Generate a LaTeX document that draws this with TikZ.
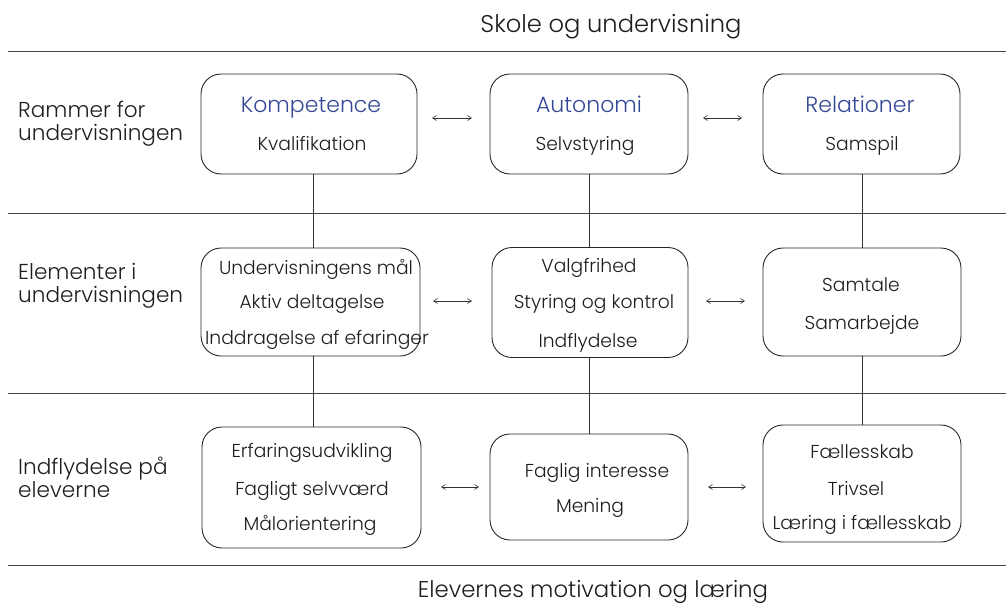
\documentclass[tikz,border=0pt]{standalone}
\usepackage{fontspec}
\setmainfont{Poppins Light}
\usetikzlibrary{arrows.meta}
\definecolor{titleblue}{RGB}{52,72,150}
\definecolor{linegray}{RGB}{70,70,70}
\definecolor{ink}{RGB}{30,30,30}
\begin{document}
\begin{tikzpicture}[x=1pt,y=-1pt,
  box/.style={draw=black!85,line width=0.9pt,rounded corners=20pt,inner sep=0pt},
  sep/.style={draw=linegray,line width=0.9pt},
  conn/.style={draw=black!80,line width=0.7pt},
  dbl/.style={draw=black!80,line width=0.6pt,{Straight Barb[length=4pt,width=5pt]}-{Straight Barb[length=4pt,width=5pt]}},
  txt/.style={font=\fontsize{18.7}{20}\selectfont,text=ink,inner sep=0pt,anchor=base},
  hd/.style={font=\fontsize{22}{24}\selectfont,text=titleblue,inner sep=0pt,anchor=base},
  lab/.style={font=\fontsize{21.6}{23}\selectfont,text=ink,inner sep=0pt,align=left,anchor=north west},
  big/.style={font=\fontsize{24.2}{26}\selectfont,text=ink,inner sep=0pt,anchor=base}]
\useasboundingbox (0,0) rectangle (1006,605);
% separators
\coordinate (s1a) at (8,51);  \coordinate (s1b) at (1006,51);
\coordinate (s2a) at (8,213); \coordinate (s2b) at (1006,213);
\coordinate (s3a) at (8,393); \coordinate (s3b) at (1006,393);
\coordinate (s4a) at (8,565); \coordinate (s4b) at (1006,565);
\draw[sep] (s1a) -- (s1b);
\draw[sep] (s2a) -- (s2b);
\draw[sep] (s3a) -- (s3b);
\draw[sep] (s4a) -- (s4b);
% titles
\node[big] (top) at (611,32) {Skole og undervisning};
\node[big,font=\fontsize{22.8}{26}\selectfont] (bot) at (593,597) {Elevernes motivation og læring};
% row labels
\node[lab] (l1) at (18,101) {Rammer for\\undervisningen};
\node[lab] (l2) at (18,263) {Elementer i\\undervisningen};
\node[lab] (l3) at (18,457) {Indflydelse på\\eleverne};
% boxes row 1
\node[box,minimum width=216pt,minimum height=100pt] (b11) at (309,124) {};
\node[box,minimum width=198pt,minimum height=100pt] (b12) at (589,124) {};
\node[box,minimum width=197pt,minimum height=100pt] (b13) at (861.5,124) {};
% row 2
\node[box,minimum width=219pt,minimum height=108pt] (b21) at (310.5,302) {};
\node[box,minimum width=196pt,minimum height=110pt] (b22) at (590,302.5) {};
\node[box,minimum width=198pt,minimum height=108pt] (b23) at (862,302) {};
% row 3
\node[box,minimum width=219pt,minimum height=121pt] (b31) at (311.5,487.5) {};
\node[box,minimum width=198pt,minimum height=106pt] (b32) at (589,487) {};
\node[box,minimum width=198pt,minimum height=117pt] (b33) at (862,483.5) {};
% texts row 1
\node[hd] (h1) at (311,112) {Kompetence};
\node[txt] (t1) at (312,150) {Kvalifikation};
\node[hd] (h2) at (589,112) {Autonomi};
\node[txt] (t2) at (585,150) {Selvstyring};
\node[hd] (h3) at (860,112) {Relationer};
\node[txt] (t3) at (862,150) {Samspil};
% row 2
\node[txt] (t211) at (316,274) {Undervisningens mål};
\node[txt] (t212) at (312,308) {Aktiv deltagelse};
\node[txt] (t213) at (317,344) {Inddragelse af efaringer};
\node[txt] (t221) at (589,272) {Valgfrihed};
\node[txt] (t222) at (594,308) {Styring og kontrol};
\node[txt] (t223) at (588,347) {Indflydelse};
\node[txt] (t231) at (861,291) {Samtale};
\node[txt] (t232) at (862,329) {Samarbejde};
% row 3
\node[txt] (t311) at (312,457) {Erfaringsudvikling};
\node[txt] (t312) at (312,495) {Fagligt selvværd};
\node[txt] (t313) at (310,530) {Målorientering};
\node[txt] (t321) at (597,477) {Faglig interesse};
\node[txt] (t322) at (590,512) {Mening};
\node[txt] (t331) at (862,458) {Fællesskab};
\node[txt] (t332) at (856,495) {Trivsel};
\node[txt] (t333) at (862,529) {Læring i fællesskab};
% vertical connectors
\draw[conn] (b11.south -| 313,0) -- (b21.north -| 313,0);
\draw[conn] (b21.south -| 313,0) -- (b31.north -| 313,0);
\draw[conn] (b12.south -| 589,0) -- (b22.north -| 589,0);
\draw[conn] (b22.south -| 589,0) -- (b32.north -| 589,0);
\draw[conn] (b13.south -| 862,0) -- (b23.north -| 862,0);
\draw[conn] (b23.south -| 862,0) -- (b33.north -| 862,0);
% horizontal double arrows
\coordinate (a1l) at (432,118); \coordinate (a1r) at (472,118);
\coordinate (a2l) at (703,118); \coordinate (a2r) at (742,118);
\coordinate (a3l) at (433,301); \coordinate (a3r) at (472,301);
\coordinate (a4l) at (706,301); \coordinate (a4r) at (745,301);
\coordinate (a5l) at (441,487); \coordinate (a5r) at (479,487);
\coordinate (a6l) at (708,487); \coordinate (a6r) at (746,487);
\draw[dbl] (a1l) -- (a1r);
\draw[dbl] (a2l) -- (a2r);
\draw[dbl] (a3l) -- (a3r);
\draw[dbl] (a4l) -- (a4r);
\draw[dbl] (a5l) -- (a5r);
\draw[dbl] (a6l) -- (a6r);
\end{tikzpicture}
\end{document}
